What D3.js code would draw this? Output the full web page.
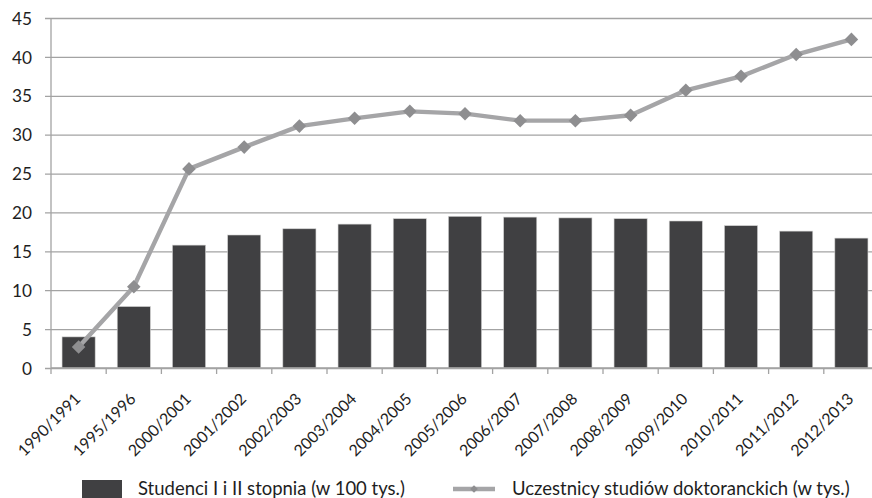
<!DOCTYPE html>
<html><head><meta charset="utf-8">
<script src="https://cdn.jsdelivr.net/npm/d3@7"></script>
<style>html,body{margin:0;padding:0;background:#fff;overflow:hidden}svg{display:block}</style>
</head><body>
<script>
const categories = ["1990/1991","1995/1996","2000/2001","2001/2002","2002/2003","2003/2004","2004/2005","2005/2006","2006/2007","2007/2008","2008/2009","2009/2010","2010/2011","2011/2012","2012/2013"];
const students = [4.0, 7.9, 15.8, 17.1, 17.9, 18.5, 19.2, 19.5, 19.4, 19.3, 19.2, 18.9, 18.3, 17.6, 16.7];
const doctoral = [2.7, 10.45, 25.6, 28.4, 31.1, 32.1, 33.0, 32.7, 31.8, 31.8, 32.5, 35.7, 37.5, 40.3, 42.25];
const yTicks = [0,5,10,15,20,25,30,35,40,45];
const seriesNames = ["Studenci I i II stopnia (w 100 tys.)", "Uczestnicy studiów doktoranckich (w tys.)"];

const W = 872, H = 498;
const FONT = "Lato, 'Open Sans', sans-serif";
const svg = d3.select("body").append("svg").attr("width", W).attr("height", H);

function fitSize(txt, target) {
  const t = svg.append("text").attr("font-family", FONT).attr("font-size", 100).text(txt);
  const w = t.node().getComputedTextLength();
  t.remove();
  return 100 * target / w;
}

const x = d3.scaleBand().domain(categories).range([51, 879]).paddingInner(0.4).paddingOuter(0.2);
const xb = d3.scaleBand().domain(categories).range([51, 879]);
const y = d3.scaleLinear().domain([0, 45]).range([368, 18]);

// gridlines + y axis
const yAxis = d3.axisLeft(y).tickValues(yTicks).tickSize(-(879 - 51)).tickSizeOuter(0).tickPadding(19);
const yg = svg.append("g").attr("transform", "translate(51,0)").call(yAxis);
yg.select(".domain").remove();
yg.selectAll(".tick line").attr("stroke", "#a3a3a3").attr("stroke-width", 1.3).attr("x1", -6);
const ySize = fitSize("45", 20);
yg.selectAll(".tick text").attr("font-family", FONT).attr("font-size", ySize).attr("fill", "#1e1e1e").attr("dy", "0.36em");

// y axis line
svg.append("line").attr("x1", 51).attr("x2", 51).attr("y1", y(45)).attr("y2", y(0)).attr("stroke", "#a3a3a3").attr("stroke-width", 1.3);

// bars
svg.append("g").selectAll("rect").data(students).join("rect")
  .attr("x", (d, i) => x(categories[i]))
  .attr("width", x.bandwidth())
  .attr("y", d => y(d))
  .attr("height", d => y(0) - y(d))
  .attr("fill", "#404042")
  .attr("stroke", "#d0d0d0").attr("stroke-width", 0.6);

// x axis
svg.append("line").attr("x1", 51).attr("x2", 879).attr("y1", y(0)).attr("y2", y(0)).attr("stroke", "#a3a3a3").attr("stroke-width", 1.3);
svg.append("g").selectAll("line").data(categories).join("line")
  .attr("x1", d => xb(d)).attr("x2", d => xb(d))
  .attr("y1", y(0)).attr("y2", y(0) + 6)
  .attr("stroke", "#a3a3a3").attr("stroke-width", 1.3);
const xSize = fitSize("1990/1991", 81);
svg.append("g").selectAll("text").data(categories).join("text")
  .attr("font-family", FONT).attr("font-size", xSize).attr("fill", "#1e1e1e")
  .attr("text-anchor", "end")
  .attr("transform", d => `translate(${xb(d) + xb.bandwidth() / 2 + 3},400) rotate(-45)`)
  .text(d => d);

// line
const cx = (i) => xb(categories[i]) + xb.bandwidth() / 2;
const line = d3.line().x((d, i) => cx(i)).y(d => y(d));
svg.append("path").datum(doctoral).attr("d", line).attr("fill", "none")
  .attr("stroke", "#a5a5a7").attr("stroke-width", 4.4).attr("stroke-linejoin", "round");
const sq = d3.symbol().type(d3.symbolSquare);
svg.append("g").selectAll("path").data(doctoral).join("path")
  .attr("d", sq.size(92)())
  .attr("transform", (d, i) => `translate(${cx(i)},${y(d)}) rotate(45)`)
  .attr("fill", "#8e8e90");

// legend
const lgSize = fitSize(seriesNames[0], 267);
svg.append("rect").attr("x", 82).attr("y", 480).attr("width", 40).attr("height", 18).attr("fill", "#404042");
svg.append("text").attr("x", 138).attr("y", 489).attr("dy", "0.35em").attr("font-family", FONT).attr("font-size", lgSize).attr("fill", "#1e1e1e").text(seriesNames[0]);
svg.append("line").attr("x1", 453).attr("x2", 495).attr("y1", 489).attr("y2", 489).attr("stroke", "#a5a5a7").attr("stroke-width", 4.4);
svg.append("path").attr("d", sq.size(30)()).attr("transform", "translate(474,489) rotate(45)").attr("fill", "#8e8e90");
svg.append("text").attr("x", 512).attr("y", 489).attr("dy", "0.35em").attr("font-family", FONT).attr("font-size", lgSize).attr("fill", "#1e1e1e").text(seriesNames[1]);
</script>
</body></html>
